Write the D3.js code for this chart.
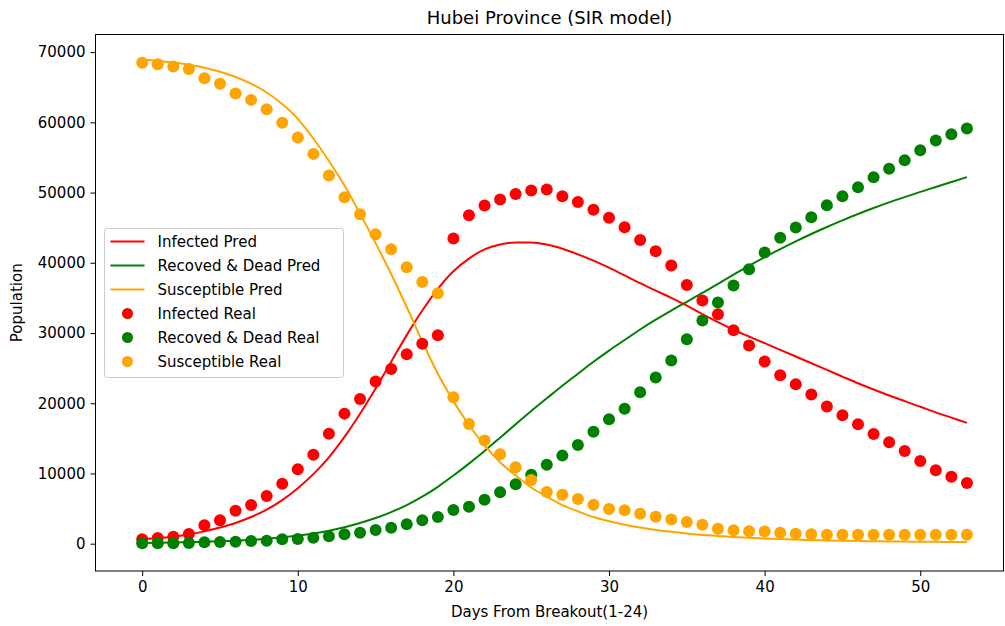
<!DOCTYPE html>
<html>
<head>
<meta charset="utf-8">
<script src="https://cdnjs.cloudflare.com/ajax/libs/d3/7.8.5/d3.min.js"></script>
<style>
  body { margin: 0; background: #fff; }
  svg text { font-family: "DejaVu Sans", sans-serif; fill: #000; }
</style>
</head>
<body>
<script>
'use strict';

// days from breakout
const days = d3.range(0, 54);

// model predictions
const infectedPred = [630, 800, 1000, 1300, 1750, 2300, 2950, 3800, 4850, 6200,
  7900, 9900, 12300, 15200, 18500, 22100, 25900, 29700, 33200, 36300,
  38800, 40600, 41900, 42600, 42900, 42900, 42600, 42000, 41200, 40300,
  39300, 38200, 37100, 36050, 35000, 33900, 32700, 31550, 30450, 29500,
  28550, 27600, 26650, 25700, 24750, 23800, 22850, 21950, 21100, 20300,
  19500, 18700, 17950, 17200];
const recoveredPred = [90, 120, 160, 210, 270, 340, 430, 550, 700, 900,
  1150, 1450, 1850, 2350, 2950, 3650, 4500, 5500, 6700, 8100,
  9700, 11400, 13200, 15100, 17000, 18900, 20700, 22500, 24200, 25900,
  27500, 29000, 30500, 31900, 33200, 34450, 35700, 37000, 38300, 39600,
  40800, 41950, 43050, 44100, 45100, 46050, 46950, 47800, 48600, 49350,
  50100, 50800, 51500, 52200];
const susceptiblePred = [68900, 68750, 68520, 68200, 67780, 67200, 66450, 65500, 64250, 62600,
  60500, 57700, 54500, 51000, 47000, 42800, 38400, 33700, 28800, 24200,
  20300, 16900, 14000, 11600, 9700, 8000, 6700, 5500, 4600, 3800,
  3200, 2700, 2300, 1950, 1700, 1450, 1250, 1100, 950, 850,
  750, 650, 580, 520, 460, 420, 380, 350, 320, 300,
  280, 260, 250, 240];

// reported numbers
const infectedReal = [630, 810, 1000, 1380, 2620, 3330, 4700, 5510, 6790, 8550,
  10600, 12680, 15670, 18520, 20610, 23080, 24890, 26960, 28470, 29690,
  43450, 46780, 48150, 49000, 49810, 50290, 50430, 49490, 48670, 47540,
  46400, 45070, 43260, 41650, 39630, 36850, 34620, 32680, 30400, 28210,
  25930, 23990, 22710, 21230, 19520, 18290, 17010, 15630, 14440, 13200,
  11780, 10450, 9540, 8650];
const recoveredReal = [60, 60, 60, 100, 200, 240, 290, 380, 430, 630,
  670, 860, 1050, 1340, 1570, 1950, 2280, 2760, 3330, 3800,
  4800, 5270, 6270, 7320, 8460, 9830, 11250, 12540, 14060, 15950,
  17720, 19230, 21570, 23650, 26070, 29120, 31770, 34330, 36750, 39090,
  41450, 43550, 45010, 46490, 48200, 49490, 50770, 52190, 53380, 54610,
  56040, 57410, 58320, 59120];
const susceptibleReal = [68480, 68290, 67950, 67580, 66290, 65480, 64100, 63200, 61880, 59930,
  57840, 55510, 52420, 49340, 46920, 44060, 41940, 39370, 37280, 35670,
  20850, 17050, 14680, 12730, 10880, 9070, 7360, 6980, 6370, 5560,
  4940, 4750, 4270, 3850, 3450, 3090, 2710, 2140, 1910, 1770,
  1730, 1570, 1430, 1340, 1280, 1280, 1280, 1280, 1280, 1280,
  1280, 1280, 1280, 1280];

const xTicks = [0, 10, 20, 30, 40, 50];
const yTicks = [0, 10000, 20000, 30000, 40000, 50000, 60000, 70000];

const lineSeries = [
  { name: 'Infected Pred', values: infectedPred, color: 'red' },
  { name: 'Recoved & Dead Pred', values: recoveredPred, color: 'green' },
  { name: 'Susceptible Pred', values: susceptiblePred, color: 'orange' }
];
const dotSeries = [
  { name: 'Infected Real', values: infectedReal, color: 'red' },
  { name: 'Recoved & Dead Real', values: recoveredReal, color: 'green' },
  { name: 'Susceptible Real', values: susceptibleReal, color: 'orange' }
];

const width = 1005, height = 626;
const plot = { left: 95.5, right: 1003.5, top: 34.5, bottom: 571 };

const svg = d3.select('body').append('svg')
  .attr('width', width)
  .attr('height', height);

const xScale = d3.scaleLinear()
  .domain([-3.0, 55.35])
  .range([plot.left, plot.right]);
const yScale = d3.scaleLinear()
  .domain([-3890, 72510])
  .range([plot.bottom, plot.top]);

// prediction lines
const line = d3.line()
  .x((d, i) => xScale(days[i]))
  .y(d => yScale(d))
  .curve(d3.curveMonotoneX);

svg.selectAll('.pred')
  .data(lineSeries)
  .enter()
  .append('path')
  .attr('class', 'pred')
  .attr('fill', 'none')
  .attr('stroke', d => d.color)
  .attr('stroke-width', 2)
  .attr('stroke-linejoin', 'round')
  .attr('d', d => line(d.values));

// real data points
dotSeries.forEach(function (s) {
  svg.append('g')
    .selectAll('circle')
    .data(s.values)
    .enter()
    .append('circle')
    .attr('cx', (d, i) => xScale(days[i]))
    .attr('cy', d => yScale(d))
    .attr('r', 6)
    .attr('fill', s.color);
});

// axes
const xAxis = d3.axisBottom(xScale)
  .tickValues(xTicks)
  .tickSize(5)
  .tickSizeOuter(0)
  .tickPadding(5);
const gx = svg.append('g')
  .attr('transform', `translate(0, ${plot.bottom})`)
  .call(xAxis);
gx.select('.domain').remove();
gx.selectAll('text').style('font-size', '15px').style('font-family', '"DejaVu Sans", sans-serif');

const yAxis = d3.axisLeft(yScale)
  .tickValues(yTicks)
  .tickFormat(d3.format('d'))
  .tickSize(5)
  .tickSizeOuter(0)
  .tickPadding(5);
const gy = svg.append('g')
  .attr('transform', `translate(${plot.left}, 0)`)
  .call(yAxis);
gy.select('.domain').remove();
gy.selectAll('text').style('font-size', '15px').style('font-family', '"DejaVu Sans", sans-serif');

// frame
svg.append('rect')
  .attr('x', plot.left)
  .attr('y', plot.top)
  .attr('width', plot.right - plot.left)
  .attr('height', plot.bottom - plot.top)
  .attr('fill', 'none')
  .attr('stroke', '#000')
  .attr('stroke-width', 1);

// labels
svg.append('text')
  .attr('x', (plot.left + plot.right) / 2)
  .attr('y', 24)
  .attr('text-anchor', 'middle')
  .style('font-size', '18px')
  .text('Hubei Province (SIR model)');

svg.append('text')
  .attr('x', (plot.left + plot.right) / 2)
  .attr('y', 617)
  .attr('text-anchor', 'middle')
  .style('font-size', '15px')
  .text('Days From Breakout(1-24)');

svg.append('text')
  .attr('transform', `translate(22, ${(plot.top + plot.bottom) / 2}) rotate(-90)`)
  .attr('text-anchor', 'middle')
  .style('font-size', '15px')
  .text('Population');

// legend
const legend = svg.append('g').attr('transform', 'translate(104.5, 228.5)');
legend.append('rect')
  .attr('width', 239)
  .attr('height', 149)
  .attr('rx', 3)
  .attr('fill', 'white')
  .attr('fill-opacity', 0.8)
  .attr('stroke', '#cccccc')
  .attr('stroke-width', 1);

const rowGap = 24;
lineSeries.forEach(function (s, i) {
  const y = 13 + i * rowGap;
  legend.append('line')
    .attr('x1', 6).attr('x2', 40)
    .attr('y1', y).attr('y2', y)
    .attr('stroke', s.color)
    .attr('stroke-width', 2);
  legend.append('text')
    .attr('x', 53).attr('y', y + 5)
    .style('font-size', '15px')
    .text(s.name);
});
dotSeries.forEach(function (s, i) {
  const y = 13 + (i + 3) * rowGap;
  legend.append('circle')
    .attr('cx', 23).attr('cy', y)
    .attr('r', 5.5)
    .attr('fill', s.color);
  legend.append('text')
    .attr('x', 53).attr('y', y + 5)
    .style('font-size', '15px')
    .text(s.name);
});
</script>
</body>
</html>
